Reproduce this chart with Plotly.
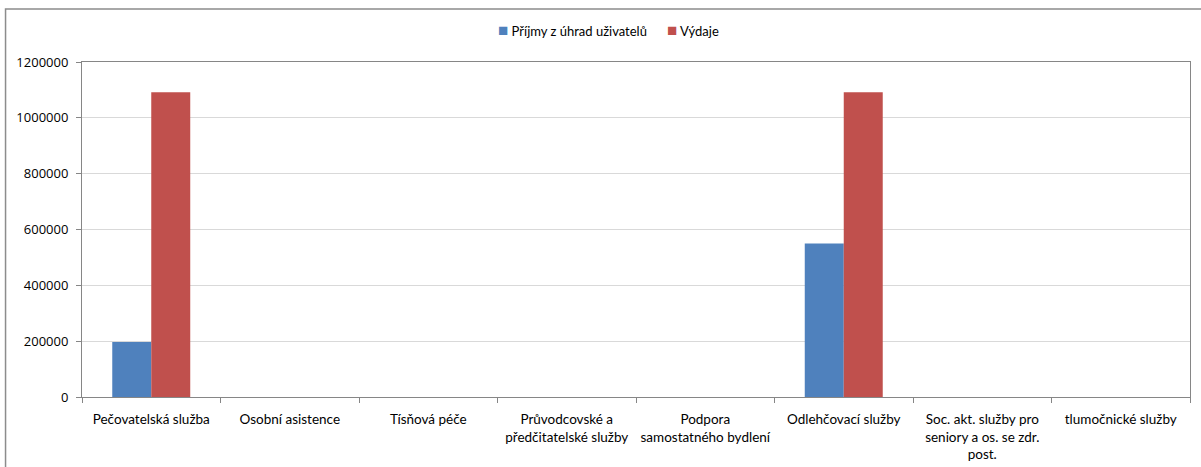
import plotly.graph_objects as go

categories = [
    "Pečovatelská služba",
    "Osobní asistence",
    "Tísňová péče",
    "Průvodcovské a<br>předčitatelské služby",
    "Podpora<br>samostatného bydlení",
    "Odlehčovací služby",
    "Soc. akt. služby pro<br>seniory a os. se zdr.<br>post.",
    "tlumočnické služby",
]
prijmy = [197000, 0, 0, 0, 0, 550000, 0, 0]
vydaje = [1092000, 0, 0, 0, 0, 1092000, 0, 0]
y_ticks = [0, 200000, 400000, 600000, 800000, 1000000, 1200000]

series = [
    ("Příjmy z úhrad uživatelů", prijmy, "#4F81BD"),
    ("Výdaje", vydaje, "#C0504D"),
]

FONT = "Lato"
AXIS = "#868686"

fig = go.Figure()
for name, values, color in series:
    fig.add_trace(go.Bar(
        name=name, x=categories, y=values,
        marker=dict(color=color, line=dict(width=0)),
    ))

fig.update_layout(
    width=1201, height=467,
    margin=dict(l=82, r=11, t=62, b=70, autoexpand=False),
    paper_bgcolor="white", plot_bgcolor="white",
    font=dict(family=FONT, size=13, color="#000000"),
    barmode="group", bargap=0.437, bargroupgap=0,
    showlegend=False,
    hovermode=False,
)
fig.update_xaxes(
    showgrid=False, showline=True, linecolor=AXIS, linewidth=1, mirror=True,
    ticks="outside", tickson="boundaries", ticklen=5, tickcolor=AXIS,
    tickfont=dict(family=FONT, size=13.5), tickangle=0, ticklabelstandoff=10,
)
fig.update_yaxes(
    range=[0, 1200000], tickvals=y_ticks, tickformat="d",
    showgrid=True, gridcolor="#D9D9D9", gridwidth=1,
    showline=True, linecolor=AXIS, linewidth=1, mirror=True,
    ticks="outside", ticklen=5, tickcolor=AXIS,
    tickfont=dict(family="Open Sans", size=13), zeroline=False,
    ticklabelstandoff=5,
)

# compact legend row: coloured square followed by the series name
legend_text = "      ".join(
    f'<span style="color:{color};font-size:17px">■</span> {name}'
    for name, _, color in series
)
fig.add_annotation(
    text=legend_text, xref="paper", yref="paper", x=0.475, y=1.0985,
    xanchor="center", yanchor="middle", showarrow=False,
    font=dict(family=FONT, size=13, color="#000000"),
)

# outer chart frame, running past the right and bottom edges of the page
fig.add_shape(type="rect", xref="paper", yref="paper",
              x0=-0.069, x1=1.2, y0=-0.5, y1=1.158,
              line=dict(color="#8C8C8C", width=1.5), layer="below")

fig.write_html("out.html")
